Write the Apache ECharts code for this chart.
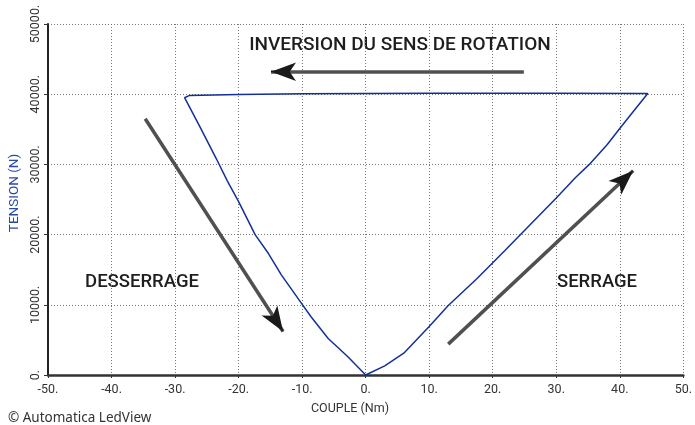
<!DOCTYPE html>
<html>
<head>
<meta charset="utf-8">
<script src="https://cdn.jsdelivr.net/npm/echarts@6/dist/echarts.min.js"></script>
<style>html,body{margin:0;padding:0;background:#fff}#c{width:695px;height:425px}</style>
</head>
<body>
<div id="c"></div>
<script>
// Curve: serrage (loading), inversion (top), desserrage (unloading)
const serrageX = [0, 3, 6, 10, 13, 17.5, 22, 26, 30, 33, 35.2, 38, 39.9, 42, 44.4];
const serrageY = [0, 1300, 3100, 6900, 9900, 13700, 17800, 21500, 25200, 28100, 30000, 32800, 35000, 37400, 40100];
const inversionX = [44.4, 30, 20, 10, 0, -10, -20, -27.8];
const inversionY = [40100, 40150, 40150, 40120, 40100, 40050, 39950, 39800];
const desserrageX = [-28.5, -26, -23.5, -21.8, -20, -17.4, -15.3, -13.3, -10.1, -8.6, -5.9, -2.8, 0];
const desserrageY = [39500, 35200, 30800, 27700, 24700, 20000, 17300, 14300, 10200, 8300, 5200, 2600, 0];

// Arrows: [startX, startY, endX, endY]
const arrowTop = [24.9, 43200, -14.9, 43200];
const arrowDesserrage = [-34.7, 36500, -13.0, 6200];
const arrowSerrage = [13.0, 4400, 42.1, 29100];

const xTicks = [-50, -40, -30, -20, -10, 0, 10, 20, 30, 40, 50];
const yTicks = [0, 10000, 20000, 30000, 40000, 50000];

const labelTop = 'INVERSION DU SENS DE ROTATION';
const labelLeft = 'DESSERRAGE';
const labelRight = 'SERRAGE';
const xName = 'COUPLE (Nm)';
const yName = 'TENSION (N)';
const footer = '\u00A9 Automatica LedView';

const curve = [];
serrageX.forEach((x, i) => curve.push([x, serrageY[i]]));
inversionX.forEach((x, i) => { if (i > 0) curve.push([x, inversionY[i]]); });
desserrageX.forEach((x, i) => curve.push([x, desserrageY[i]]));

function arrowShaft(a) {
  return [{ coord: [a[0], a[1]] }, { coord: [a[2], a[3]], symbol: 'none' }];
}
function arrowHead(a) {
  const f = 0.97;
  return [
    { coord: [a[0] + (a[2] - a[0]) * f, a[1] + (a[3] - a[1]) * f], symbol: 'none', lineStyle: { color: '#1a1a1a', width: 1 } },
    { coord: [a[2], a[3]], symbol: 'arrow', lineStyle: { color: '#1a1a1a', width: 1 } }
  ];
}

const FONT = 'Roboto, sans-serif';

const chart = echarts.init(document.getElementById('c'), null, { renderer: 'canvas' });
chart.setOption({
  animation: false,
  backgroundColor: '#fff',
  grid: { left: 48, right: 7, top: 24, bottom: 50 },
  xAxis: {
    type: 'value', min: -50, max: 50, interval: 10,
    axisLine: { onZero: false, lineStyle: { color: '#333', width: 2.5 } },
    axisTick: { show: true, length: 3, lineStyle: { color: '#333' } },
    axisLabel: { color: '#333', fontSize: 12.5, fontFamily: FONT, margin: 8,
      formatter: v => v + '.' },
    splitLine: { show: true, lineStyle: { color: '#777', type: [1, 2], width: 1 } }
  },
  yAxis: {
    type: 'value', min: 0, max: 50000, interval: 10000,
    axisLine: { onZero: false, lineStyle: { color: '#222', width: 2 } },
    axisTick: { show: true, length: 4, lineStyle: { color: '#333' } },
    axisLabel: { color: '#333', fontSize: 12.5, fontFamily: FONT, rotate: 90, margin: 6,
      formatter: v => v + '.' },
    splitLine: { show: true, lineStyle: { color: '#777', type: [1, 2], width: 1 } }
  },
  series: [
    {
      type: 'line', data: curve, showSymbol: false, smooth: false,
      lineStyle: { color: '#12309a', width: 1.5 }, z: 3,
      markLine: {
        silent: true, symbol: ['none', 'arrow'], symbolSize: [14, 25],
        label: { show: false },
        lineStyle: { color: '#505050', width: 3.5, type: 'solid' },
        data: [arrowShaft(arrowTop), arrowShaft(arrowDesserrage), arrowShaft(arrowSerrage),
               arrowHead(arrowTop), arrowHead(arrowDesserrage), arrowHead(arrowSerrage)]
      }
    }
  ],
  graphic: [
    { type: 'text', style: { text: labelTop, fill: '#1e1e1e', fontSize: 19, fontWeight: 500, fontFamily: FONT, x: 400, y: 45, textAlign: 'center', textVerticalAlign: 'middle' } },
    { type: 'text', style: { text: labelLeft, fill: '#1e1e1e', fontSize: 18.5, fontWeight: 500, fontFamily: FONT, x: 142, y: 282, textAlign: 'center', textVerticalAlign: 'middle' } },
    { type: 'text', style: { text: labelRight, fill: '#1e1e1e', fontSize: 18.5, fontWeight: 500, fontFamily: FONT, x: 597, y: 282, textAlign: 'center', textVerticalAlign: 'middle' } },
    { type: 'text', style: { text: xName, fill: '#333', fontSize: 12.5, fontFamily: FONT, x: 350, y: 409, textAlign: 'center', textVerticalAlign: 'middle' } },
    { type: 'text', x: 15, y: 193, rotation: Math.PI / 2, style: { text: yName, fill: '#2a4aa8', fontSize: 13.5, fontFamily: FONT, x: 0, y: 0, textAlign: 'center', textVerticalAlign: 'middle' } },
    { type: 'text', style: { text: footer, fill: '#333', fontSize: 13.5, fontFamily: '"Noto Sans", sans-serif', x: 8, y: 418, textAlign: 'left', textVerticalAlign: 'middle' } }
  ]
});
</script>
</body>
</html>
